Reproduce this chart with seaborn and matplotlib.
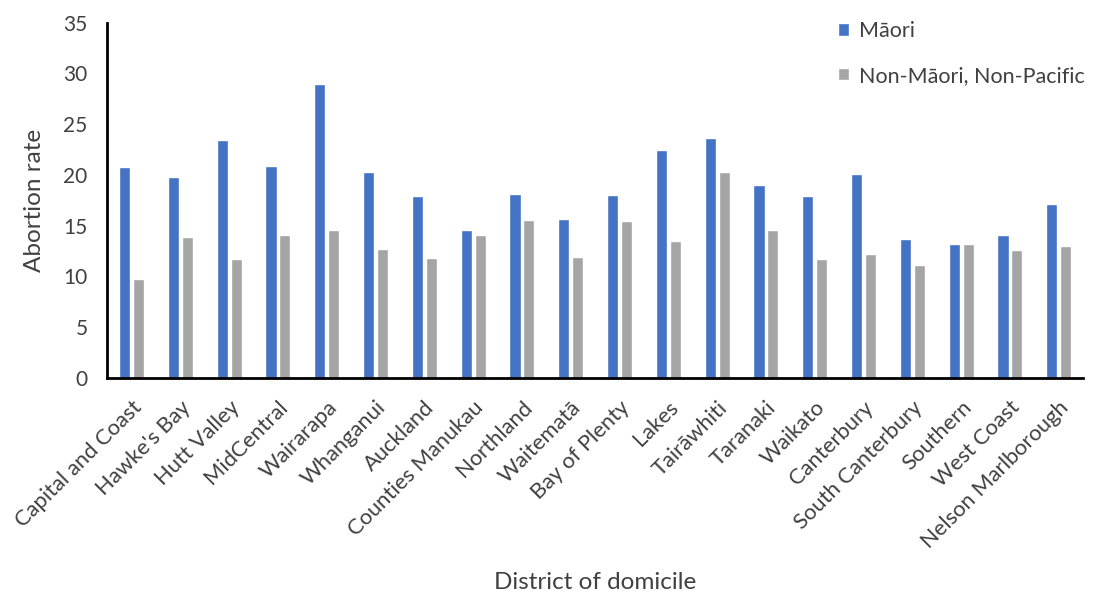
import matplotlib
matplotlib.use("Agg")
import matplotlib.pyplot as plt
import seaborn as sns
import pandas as pd

districts = [
    "Capital and Coast", "Hawke's Bay", "Hutt Valley", "MidCentral", "Wairarapa",
    "Whanganui", "Auckland", "Counties Manukau", "Northland", "Waitematā",
    "Bay of Plenty", "Lakes", "Tairāwhiti", "Taranaki", "Waikato",
    "Canterbury", "South Canterbury", "Southern", "West Coast", "Nelson Marlborough",
]
maori = [20.8, 19.8, 23.4, 20.9, 29.0, 20.3, 17.9, 14.6, 18.1, 15.7,
         18.0, 22.5, 23.6, 19.0, 17.9, 20.1, 13.7, 13.2, 14.1, 17.1]
non_maori_non_pacific = [9.7, 13.9, 11.7, 14.1, 14.6, 12.7, 11.8, 14.1, 15.6, 11.9,
                         15.5, 13.5, 20.3, 14.6, 11.7, 12.2, 11.1, 13.2, 12.6, 13.0]
series_names = ["Māori", "Non-Māori, Non-Pacific"]
y_ticks = [0, 5, 10, 15, 20, 25, 30, 35]

df = pd.DataFrame({
    "District": districts * 2,
    "Group": [series_names[0]] * len(districts) + [series_names[1]] * len(districts),
    "Rate": maori + non_maori_non_pacific,
})

sns.set_theme(style="white")
plt.rcParams["font.family"] = ["Lato", "DejaVu Sans"]
text_color = "#404040"

fig = plt.figure(figsize=(10.93, 5.97), dpi=100)
ax = fig.add_axes([0.098, 0.367, 0.893, 0.595])

sns.barplot(
    data=df, x="District", y="Rate", hue="Group", order=districts,
    hue_order=series_names, palette=["#4472C4", "#A5A5A5"],
    width=0.57, gap=0.2, ax=ax, legend=True, saturation=1,
)

ax.set_ylim(0, 35)
ax.set_yticks(y_ticks)
ax.set_yticklabels([str(t) for t in y_ticks], fontsize=15, color=text_color)
ax.set_xticks(range(len(districts)))
ax.set_xticklabels(districts, rotation=45, ha="right", rotation_mode="anchor",
                   fontsize=15.8, color=text_color)
ax.tick_params(axis="y", length=0, pad=14)
ax.tick_params(axis="x", length=0, pad=14)

for side in ["top", "right"]:
    ax.spines[side].set_visible(False)
for side in ["left", "bottom"]:
    ax.spines[side].set_color("black")
    ax.spines[side].set_linewidth(2)

ax.set_ylabel("Abortion rate", fontsize=17.5, color=text_color)
ax.set_xlabel("District of domicile", fontsize=17.5, color=text_color)
ax.yaxis.set_label_coords(-0.0635, 0.5)
ax.xaxis.set_label_coords(0.5, -0.546)

ax.legend(
    title=None, frameon=False, loc="upper left", bbox_to_anchor=(0.759, 0.979),
    bbox_transform=fig.transFigure, borderaxespad=0,
    fontsize=15.5, labelcolor=text_color, handlelength=0.5, handleheight=0.5,
    handletextpad=0.45, labelspacing=1.15,
)

fig.savefig("out.png", dpi=100)
